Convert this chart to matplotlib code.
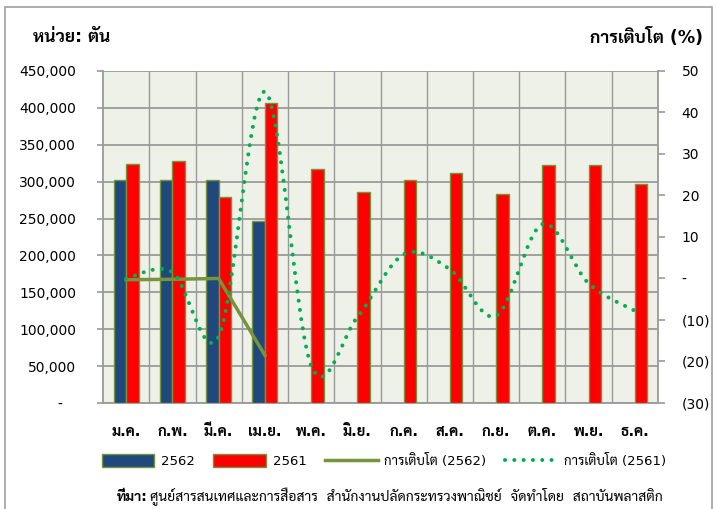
import matplotlib
matplotlib.use("Agg")
import matplotlib.pyplot as plt
from matplotlib import font_manager as fm
from matplotlib.path import Path
from matplotlib.patches import PathPatch, Patch, Rectangle
from matplotlib.lines import Line2D
import numpy as np

# ---- data ----
months = ["ม.ค.", "ก.พ.", "มี.ค.", "เม.ย.", "พ.ค.", "มิ.ย.",
          "ก.ค.", "ส.ค.", "ก.ย.", "ต.ค.", "พ.ย.", "ธ.ค."]
qty_2562 = [302000, 302000, 302000, 247000]
qty_2561 = [324000, 328000, 279000, 407000, 317000, 286000,
            302000, 312000, 283000, 322000, 322000, 297000]
growth_2562 = [-0.3, -0.2, 0.0, -18.5]
growth_2561 = [0.0, 1.5, -14.0, 45.0, -21.0, -9.3,
               5.8, 2.2, -9.0, 13.1, -1.2, -7.8]

left_ticks = list(range(0, 450001, 50000))
right_ticks = list(range(-30, 51, 10))

# ---- fonts: Latin from DejaVu, Thai from a Thai family that has a bold face ----
def has_bold(name):
    return any(f.name == name and (f.weight in ("bold", "semibold", "demibold") or
               (isinstance(f.weight, int) and f.weight >= 600))
               for f in fm.fontManager.ttflist)

names = {f.name for f in fm.fontManager.ttflist}
cands = ["Noto Sans Thai Looped", "Noto Sans Thai", "Sarabun", "IBM Plex Sans Thai",
         "Anuphan", "Athiti"]
thai = next((n for n in cands if n in names and has_bold(n)),
            next((n for n in cands if n in names), "DejaVu Sans"))
plt.rcParams["font.family"] = ["DejaVu Sans", thai]

C_BLUE = "#1F497D"
C_RED = "#FF0000"
C_OLIVE = "#77933C"
C_GREEN = "#00B050"
C_GRID = "#9A9A9A"

fig = plt.figure(figsize=(7.17, 5.09), dpi=100)
fig.add_artist(Rectangle((0.007, -0.05), 0.986, 1.036, transform=fig.transFigure,
                         fill=False, edgecolor="#A0A0A0", lw=1.2))

ax = fig.add_axes([0.1437, 0.2083, 0.774, 0.6523])
ax.set_facecolor("#EEF1E8")
x = np.arange(len(months))
w = 0.27
ax.bar(x[:len(qty_2562)] - w / 2, qty_2562, w, color=C_BLUE, edgecolor=C_OLIVE, lw=1, zorder=3)
ax.bar(x + w / 2, qty_2561, w, color=C_RED, edgecolor=C_OLIVE, lw=1, zorder=3)

ax.set_xlim(-0.5, len(months) - 0.5)
ax.set_ylim(0, 450000)
ax.set_yticks(left_ticks)
# accounting-style zero: dash with trailing padding
ax.set_yticklabels(["-   " if v == 0 else f"{v:,}" for v in left_ticks], fontsize=10)
ax.set_xticks(x)
ax.set_xticklabels(months, fontsize=10.5, fontweight="bold")
ax.set_xticks(np.arange(0.5, len(months) - 0.5, 1), minor=True)
ax.tick_params(axis="x", which="both", length=0, pad=15)
ax.tick_params(axis="y", length=4.3, color=C_GRID, width=1.2, pad=15)
ax.grid(True, axis="y", color=C_GRID, lw=1.3, zorder=1)
ax.grid(True, axis="x", which="minor", color=C_GRID, lw=1.0, zorder=1)
for s in ["top", "right"]:
    ax.spines[s].set_visible(False)
for s in ["left", "bottom"]:
    ax.spines[s].set_color(C_GRID)
    ax.spines[s].set_linewidth(1.3)

ax2 = ax.twinx()
ax2.set_ylim(-30, 50)
ax2.set_yticks(right_ticks)
ax2.set_yticklabels(["-" if v == 0 else (f"({-v})" if v < 0 else str(v)) for v in right_ticks],
                    fontsize=10)
ax2.tick_params(axis="y", length=5, color=C_GRID, width=1.2, pad=12)
for s in ["top", "left", "bottom"]:
    ax2.spines[s].set_visible(False)
ax2.spines["right"].set_color(C_GRID)
ax2.spines["right"].set_linewidth(1.3)

ax2.plot(x[:len(growth_2562)], growth_2562, color=C_OLIVE, lw=2.5, zorder=4)

# smoothed dotted line (Catmull-Rom as cubic Bezier segments, like Excel smoothing)
pts = np.column_stack([x, growth_2561]).astype(float)
verts = [pts[0]]
codes = [Path.MOVETO]
for i in range(len(pts) - 1):
    p0 = pts[max(i - 1, 0)]
    p1, p2 = pts[i], pts[i + 1]
    p3 = pts[min(i + 2, len(pts) - 1)]
    verts += [p1 + (p2 - p0) / 6, p2 - (p3 - p1) / 6, p2]
    codes += [Path.CURVE4] * 3
dots = (0, (0.01, 2.3))
ax2.add_patch(PathPatch(Path(verts, codes), fill=False, edgecolor=C_GREEN, lw=2.9,
                        linestyle=dots, capstyle="round", zorder=5))

fig.text(0.046, 0.927, "หน่วย: ตัน", fontsize=12.5, fontweight="bold", va="center")
fig.text(0.980, 0.927, "การเติบโต (%)", fontsize=12.5, fontweight="bold", va="center", ha="right")

handles = [Patch(facecolor=C_BLUE, edgecolor=C_OLIVE, lw=1),
           Patch(facecolor=C_RED, edgecolor=C_OLIVE, lw=1),
           Line2D([], [], color=C_OLIVE, lw=2.5),
           Line2D([], [], color=C_GREEN, lw=2.9, linestyle=dots, dash_capstyle="round")]
fig.legend(handles, ["2562", "2561", "การเติบโต (2562)", "การเติบโต (2561)"],
           loc="center", bbox_to_anchor=(0.5356, 0.094), ncol=4, frameon=False,
           fontsize=9.5, handlelength=4.0, handleheight=1.1, handletextpad=0.5,
           columnspacing=1.4)

fig.text(0.163, 0.024, "ที่มา:", fontsize=10, fontweight="bold", va="center")
fig.text(0.209, 0.024, "ศูนย์สารสนเทศและการสื่อสาร  สำนักงานปลัดกระทรวงพาณิชย์  จัดทำโดย  สถาบันพลาสติก",
         fontsize=10, va="center")

fig.savefig("out.png", dpi=100)
